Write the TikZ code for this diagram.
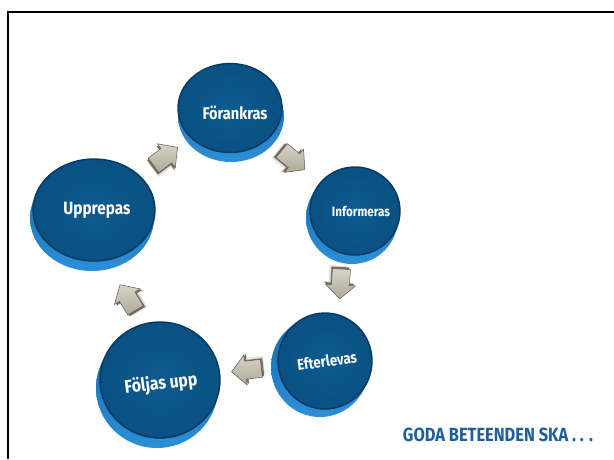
\documentclass[tikz,border=0pt]{standalone}
\usepackage{fontspec}
\newfontfamily\labfont[FakeStretch=0.86]{Fira Sans}
\usetikzlibrary{shapes.geometric,calc}
\definecolor{facein}{HTML}{0C5B8E}
\definecolor{faceout}{HTML}{0A5084}
\definecolor{faceedge}{HTML}{073A62}
\definecolor{rimlight}{HTML}{2C90D8}
\definecolor{rimdark}{HTML}{1467A8}
\definecolor{arrowlight}{HTML}{D8D3C6}
\definecolor{arrowdark}{HTML}{ADA898}
\definecolor{arrowside}{HTML}{75715F}
\definecolor{titleblue}{HTML}{1F5E9C}
\begin{document}
\begin{tikzpicture}[x=1pt,y=-1pt,
  face/.style={ellipse, draw=faceedge, line width=1.4pt, inner color=facein, outer color=faceout, inner sep=0pt},
  rim/.style={ellipse, inner sep=0pt, top color=rimdark, bottom color=rimlight},
  lab/.style={text=white, font=\labfont\bfseries, inner sep=0pt},
  title/.style={text=titleblue, font=\labfont\bfseries, inner sep=0pt},
  frame/.style={line width=2.8pt, black},
  barrow/.pic={
    \fill[white!88!black] (-17,-6) -- (-1,-6) -- (-1,-12) -- (13,3) -- (-1,18) -- (-1,12) -- (-17,12) -- cycle;
    \fill[arrowside] (-16,-8) -- (0,-8) -- (0,-14) -- (14,1) -- (0,16) -- (0,10) -- (-16,10) -- cycle;
    \shade[top color=arrowlight, bottom color=arrowdark, draw=arrowside!80!black, line width=0.5pt]
      (-14,-9) -- (2,-9) -- (2,-15) -- (16,0) -- (2,15) -- (2,9) -- (-14,9) -- cycle;
  }
]
\useasboundingbox (0,0) rectangle (614,459);
\fill[white] (0,0) rectangle (614,459);
% frame
\coordinate (ftl) at (8,12);
\coordinate (ftr) at (614,12);
\coordinate (fbl) at (8,459);
\draw[frame] (ftr) -- (ftl) -- (fbl);

% discs: rims
\node[rim, minimum width=106, minimum height=92] (rF) at (231,116) {};
\node[rim, minimum width=92, minimum height=92] (rI) at (352,218) {};
\node[rim, minimum width=98, minimum height=100] (rE) at (320,367) {};
\node[rim, minimum width=124, minimum height=106] (rU) at (92,218) {};
\node[rim, minimum width=122, minimum height=120] (rP) at (157,388) {};
% discs: faces
\node[face, minimum width=104, minimum height=89] (fF) at (230,108) {};
\node[face, minimum width=90, minimum height=88] (fI) at (355,211) {};
\node[face, minimum width=94, minimum height=96] (fE) at (325,361) {};
\node[face, minimum width=122, minimum height=102] (fU) at (94,210) {};
\node[face, minimum width=120, minimum height=116] (fP) at (160,380) {};

% labels
\node[lab] (tF) at (235,113) {\resizebox{65pt}{!}{Förankras}};
\node[lab] (tU) at (97,210) {\resizebox{67pt}{!}{Upprepas}};
\node[lab] (tI) at (361,211) {\resizebox{58pt}{!}{Informeras}};
\node[lab, rotate=8] (tE) at (327,361) {\resizebox{60pt}{!}{Efterlevas}};
\node[lab, rotate=7] (tP) at (161,384) {\resizebox{73pt}{!}{Följas upp}};
\node[title] (tG) at (498,435) {\resizebox{190pt}{!}{GODA BETEENDEN SKA . . .}};

% block arrows between discs
\path let \p1=($(fF)-(fU)$), \n1={atan2(\y1,\x1)} in ($(fU)!0.52!(fF)$) pic[rotate=\n1]{barrow};
\path let \p1=($(fI)-(fF)$), \n1={atan2(\y1,\x1)} in ($(fF)!0.5!(fI)$) pic[rotate=\n1]{barrow};
\path let \p1=($(fE)-(fI)$), \n1={atan2(\y1,\x1)+8} in ($(fI)!0.48!(fE)$) pic[rotate=\n1]{barrow};
\path let \p1=($(fP)-(fE)$), \n1={atan2(\y1,\x1)} in ($(fE)!0.47!(fP)$) pic[rotate=\n1]{barrow};
\path let \p1=($(fU)-(fP)$), \n1={atan2(\y1,\x1)+10} in ($(fP)!0.48!(fU)$) pic[rotate=\n1]{barrow};
\end{tikzpicture}
\end{document}
